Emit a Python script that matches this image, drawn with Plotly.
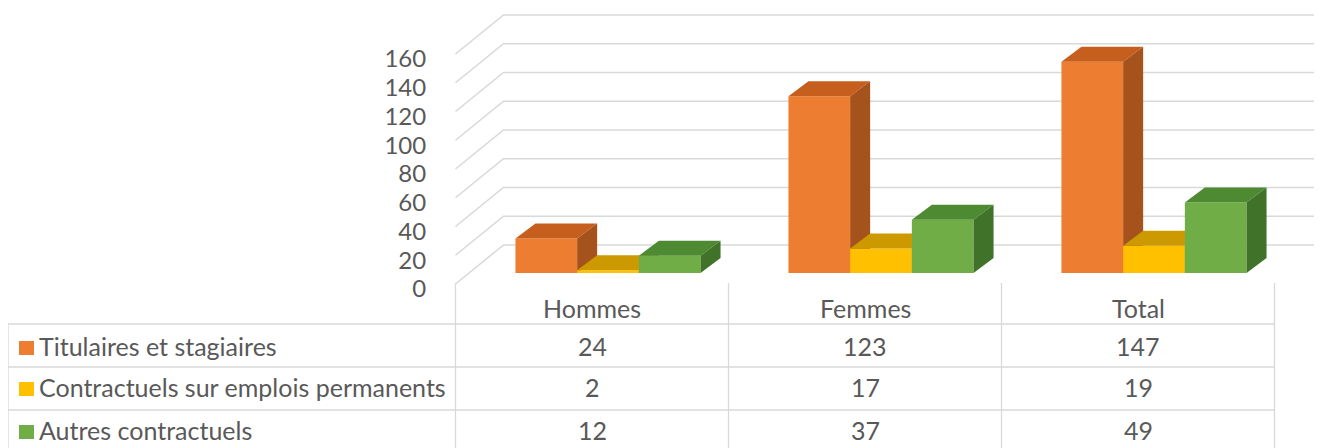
import plotly.graph_objects as go

# ---------------- data ----------------
categories = ["Hommes", "Femmes", "Total"]
series_names = ["Titulaires et stagiaires",
                "Contractuels sur emplois permanents",
                "Autres contractuels"]
titulaires = [24, 123, 147]
contractuels_permanents = [2, 17, 19]
autres_contractuels = [12, 37, 49]
y_ticks = [0, 20, 40, 60, 80, 100, 120, 140, 160]

series_values = [titulaires, contractuels_permanents, autres_contractuels]

# ---------------- style ----------------
front_colors = ["#ED7D31", "#FFC000", "#70AD47"]
top_colors = ["#C65F1E", "#CC9A00", "#4E8A31"]
side_colors = ["#A5521C", "#B08500", "#41722A"]
text_color = "#595959"
grid_color = "#D9D9D9"
font_family = "Lato, 'Open Sans', sans-serif"
FS = 25
TICK_FS = 24

# layout geometry, expressed in page pixels (page has 8px body margin)
PAGE_W, PAGE_H = 1322, 448
OFF = 8
W, H = PAGE_W - OFF, PAGE_H - OFF
L_PAGE = 440           # page x where plot area begins
CAT0_PX = 592          # page x of first category centre
PX_PER_CAT = 273
ZERO_PY = 284          # page y of value 0 on front plane
PX_PER_UNIT = 1.4375

# 3D offsets in data units
WALL_DX, WALL_DY = 48 / PX_PER_CAT, 39 / PX_PER_UNIT
BAR_OFF_DX, BAR_OFF_DY = 16 / PX_PER_CAT, 11 / PX_PER_UNIT
BAR_DEPTH_DX, BAR_DEPTH_DY = 20 / PX_PER_CAT, 15 / PX_PER_UNIT
BAR_W = 61.7 / PX_PER_CAT
GROUP_W = 3 * BAR_W

x_range = [(L_PAGE - CAT0_PX) / PX_PER_CAT, (PAGE_W - CAT0_PX) / PX_PER_CAT]
y_range = [-(PAGE_H - ZERO_PY) / PX_PER_UNIT, (ZERO_PY - OFF) / PX_PER_UNIT]


def pxx(px):
    return (px - L_PAGE) / (PAGE_W - L_PAGE)


def pyy(py):
    return 1 - (py - OFF) / H


fig = go.Figure()

# ---- walls: left-wall diagonals + back-wall gridlines ----
n = len(categories)
gx, gy = [], []
for v in y_ticks:
    gx += [-0.5, -0.5 + WALL_DX, n - 0.5 + WALL_DX, None]
    gy += [v, v + WALL_DY, v + WALL_DY, None]
fig.add_trace(go.Scatter(x=gx, y=gy, mode="lines",
                         line=dict(color=grid_color, width=1.6),
                         hoverinfo="skip", showlegend=False))

# ---- 3D bars (painter's order left to right) ----
for j, vals in enumerate(series_values):
    fx, fy, tx, ty, sx, sy = [], [], [], [], [], []
    for i, v in enumerate(vals):
        x0 = i - GROUP_W / 2 + j * BAR_W + BAR_OFF_DX
        x1 = x0 + BAR_W
        y0 = BAR_OFF_DY
        y1 = y0 + v
        fx += [x0, x1, x1, x0, x0, None]
        fy += [y0, y0, y1, y1, y0, None]
        tx += [x0, x1, x1 + BAR_DEPTH_DX, x0 + BAR_DEPTH_DX, x0, None]
        ty += [y1, y1, y1 + BAR_DEPTH_DY, y1 + BAR_DEPTH_DY, y1, None]
        sx += [x1, x1 + BAR_DEPTH_DX, x1 + BAR_DEPTH_DX, x1, x1, None]
        sy += [y0, y0 + BAR_DEPTH_DY, y1 + BAR_DEPTH_DY, y1, y0, None]
    for xs, ys, col in ((fx, fy, front_colors[j]), (tx, ty, top_colors[j]),
                        (sx, sy, side_colors[j])):
        fig.add_trace(go.Scatter(x=xs, y=ys, mode="lines", fill="toself",
                                 fillcolor=col, line=dict(width=0, color=col),
                                 hoverinfo="skip", showlegend=False,
                                 name=series_names[j]))

# ---- data table ----
HEADER_TOP = 283
ROW_LINES = [324, 367, 410, 453]
TABLE_LEFT = 8
HEADER_TEXT_Y = 307.5
ROW_TEXT_Y = [346, 387, 430]
shapes = []
line_style = dict(color=grid_color, width=1.3)
for py in ROW_LINES:
    shapes.append(dict(type="line", xref="paper", yref="paper",
                       x0=pxx(TABLE_LEFT), x1=pxx(CAT0_PX + (n - 0.5) * PX_PER_CAT),
                       y0=pyy(py), y1=pyy(py), line=line_style))
shapes.append(dict(type="line", xref="paper", yref="paper",
                   x0=pxx(TABLE_LEFT), x1=pxx(TABLE_LEFT),
                   y0=pyy(ROW_LINES[0]), y1=pyy(ROW_LINES[-1]), line=line_style))
for k in range(n + 1):
    shapes.append(dict(type="line", xref="x", yref="paper",
                       x0=k - 0.5, x1=k - 0.5,
                       y0=pyy(HEADER_TOP), y1=pyy(ROW_LINES[-1]), line=line_style))

annotations = []
tfont = dict(size=FS, color=text_color, family=font_family)
for i, c in enumerate(categories):
    annotations.append(dict(x=i, xref="x", y=pyy(HEADER_TEXT_Y), yref="paper",
                            text=c, showarrow=False, xanchor="center",
                            yanchor="middle", font=tfont))
for j, vals in enumerate(series_values):
    cy = ROW_TEXT_Y[j]
    annotations.append(dict(x=pxx(40), xref="paper", y=pyy(cy), yref="paper",
                            text=series_names[j], showarrow=False, xanchor="left",
                            yanchor="middle", xshift=-3, font=tfont))
    shapes.append(dict(type="rect", xref="paper", yref="paper",
                       x0=pxx(19), x1=pxx(34), y0=pyy(cy + 2 - 7), y1=pyy(cy + 2 + 7),
                       fillcolor=front_colors[j], line=dict(width=0)))
    for i, v in enumerate(vals):
        annotations.append(dict(x=i, xref="x", y=pyy(cy), yref="paper",
                                text=str(v), showarrow=False, xanchor="center",
                                yanchor="middle", font=tfont))

fig.update_layout(
    width=W, height=H,
    margin=dict(l=L_PAGE - OFF, r=0, t=0, b=0, pad=0),
    paper_bgcolor="white", plot_bgcolor="white",
    showlegend=False, hovermode=False,
    font=dict(family=font_family, color=text_color, size=FS),
    xaxis=dict(range=x_range, visible=False, fixedrange=True),
    yaxis=dict(range=y_range, tickvals=y_ticks, ticktext=[str(t) for t in y_ticks],
               ticks="outside", ticklen=8, tickcolor="rgba(0,0,0,0)",
               ticklabelshift=5,
               showgrid=False, zeroline=False, showline=False, fixedrange=True,
               tickfont=dict(size=TICK_FS, color=text_color, family=font_family)),
    shapes=shapes, annotations=annotations,
)

fig.write_html("out.html")
